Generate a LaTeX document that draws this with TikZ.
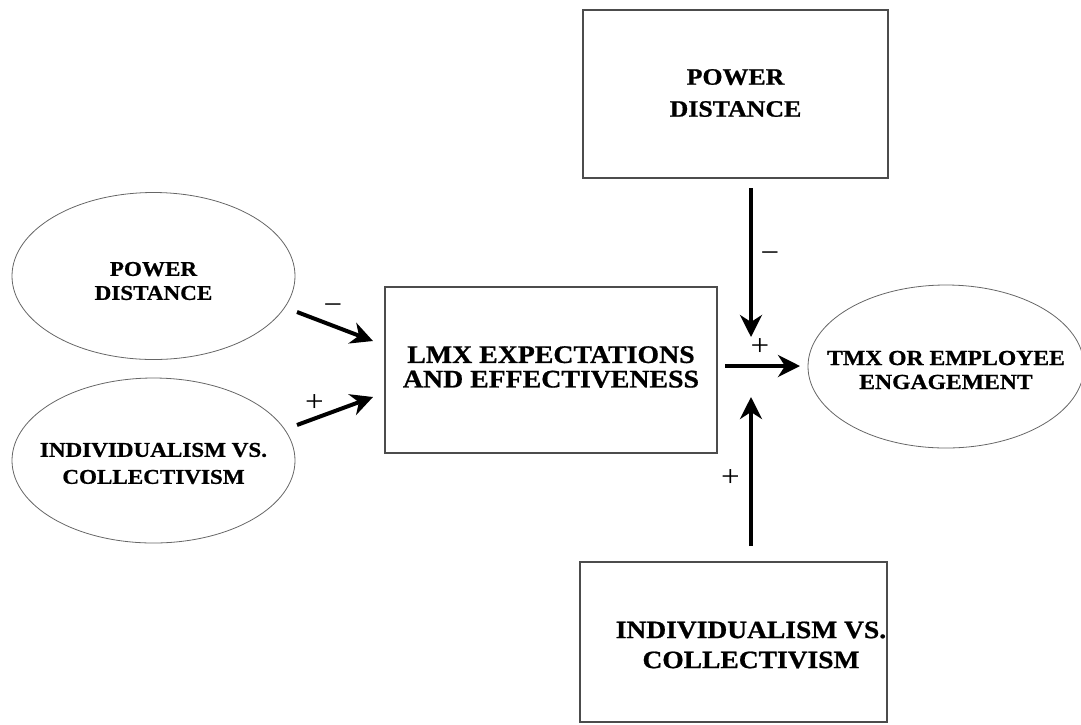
\documentclass[tikz,border=0pt]{standalone}
\usepackage{fontspec}
\setmainfont{Liberation Serif}[FakeStretch=1.1, BoldFeatures={FakeBold=0.8}]
\usetikzlibrary{arrows.meta,shapes.geometric}
\begin{document}
\begin{tikzpicture}[x=1pt,y=-1pt,
  box/.style={draw=black!70, line width=1.1pt, rectangle, inner sep=0pt},
  ell/.style={draw=black!60, line width=0.8pt, ellipse, inner sep=0pt},
  lbl/.style 2 args={align=center, inner sep=0pt, font=\bfseries\fontsize{#1}{#2}\selectfont},
  conn/.style={line width=4pt, -{Stealth[length=22pt,width=22pt,inset=7pt]}},
  sign/.style={inner sep=0pt, font=\fontsize{30}{30}\selectfont}]
\useasboundingbox (0,0) rectangle (1081,724);

% shapes
\node[ell, minimum width=283pt, minimum height=167pt] (pdE) at (153.5,276) {};
\node[ell, minimum width=283pt, minimum height=165pt] (icE) at (153.5,460.5) {};
\node[box, minimum width=332pt, minimum height=166pt] (lmx) at (551,370) {};
\node[box, minimum width=305pt, minimum height=168pt] (pdB) at (735.5,94) {};
\node[box, minimum width=307pt, minimum height=160pt] (icB) at (733.5,642) {};
\node[ell, minimum width=276pt, minimum height=163pt] (tmx) at (946,366.5) {};

% texts
\node[lbl={21}{24}] (pdEt) at (153.5,281) {POWER\\DISTANCE};
\node[lbl={21}{27}] (icEt) at (153.5,463.5) {INDIVIDUALISM VS.\\COLLECTIVISM};
\node[lbl={25.3}{24.5}] (lmxt) at (551,367) {LMX EXPECTATIONS\\AND EFFECTIVENESS};
\node[lbl={23.5}{32}] (pdBt) at (735.5,93) {POWER\\DISTANCE};
\node[lbl={25}{30}] (icBt) at (751,645) {INDIVIDUALISM VS.\\COLLECTIVISM};
\node[lbl={21.5}{24}] (tmxt) at (946,370) {TMX OR EMPLOYEE\\ENGAGEMENT};

% connector end points
\coordinate (a1s) at (297,312);
\coordinate (a1e) at (373,341);
\coordinate (a2s) at (297,425);
\coordinate (a2e) at (373,397);
\coordinate (a3s) at (751,188);
\coordinate (a3e) at (751,337);
\coordinate (a4s) at (725,366);
\coordinate (a4e) at (800,366);
\coordinate (a5s) at (751,546);
\coordinate (a5e) at (751,397);

\draw[conn] (a1s) -- (a1e);
\draw[conn] (a2s) -- (a2e);
\draw[conn] (a3s) -- (a3e);
\draw[conn] (a4s) -- (a4e);
\draw[conn] (a5s) -- (a5e);

% signs
\node[sign] (s1) at (333,309) {−};
\node[sign] (s2) at (314.5,403) {+};
\node[sign] (s3) at (770,257) {−};
\node[sign] (s4) at (760,347) {+};
\node[sign] (s5) at (730.5,478) {+};
\end{tikzpicture}
\end{document}
